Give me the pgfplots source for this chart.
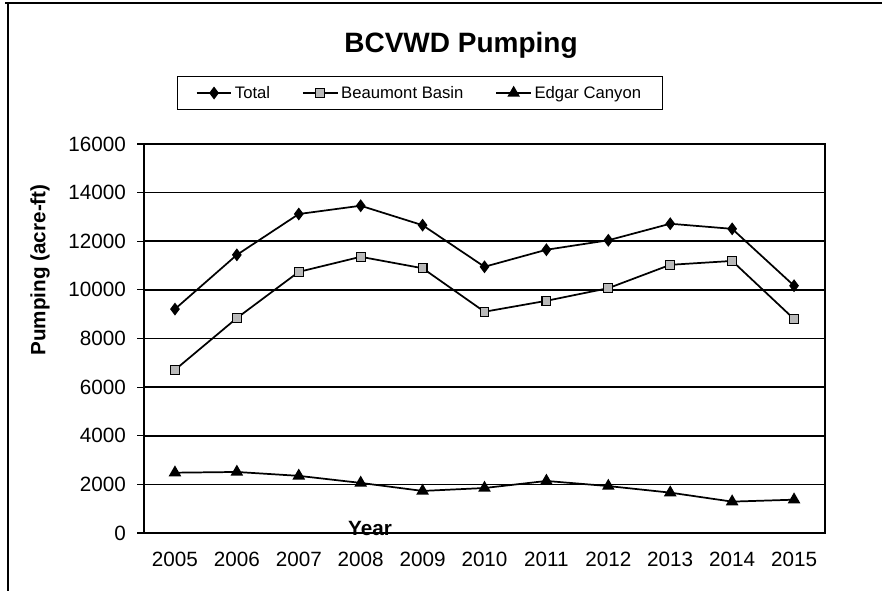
\documentclass[border=0pt]{standalone}
\usepackage{fontspec}
\setmainfont{Liberation Sans}
\usepackage{pgfplots}
\pgfplotsset{compat=1.18}
\begin{document}
\begin{tikzpicture}
\path[use as bounding box] (0pt,0pt) rectangle (661.5pt,443.25pt);
\draw[line width=1.1pt] (3.75pt,441pt) -- (661.5pt,441pt);
\draw[line width=0.8pt] (6pt,441pt) -- (6pt,0pt);
\begin{axis}[
  at={(108pt,43.5pt)}, anchor=south west,
  scale only axis, width=510.75pt, height=291.75pt,
  xmin=-0.5, xmax=10.5, ymin=0, ymax=16000,
  xtick={0,...,10},
  xticklabels={2005,2006,2007,2008,2009,2010,2011,2012,2013,2014,2015},
  major x tick style={draw=none},
  extra x ticks={-0.5,0.5,...,10.5},
  extra x tick labels={},
  extra x tick style={major tick length=6pt, tick align=outside, tick style={black, line width=0.8pt}, grid=none},
  ytick={0,2000,...,16000},
  ymajorgrids, grid style={black, line width=1.3pt},
  tick align=outside, major tick length=5pt,
  tick style={black, line width=0.8pt},
  xtick pos=bottom, ytick pos=left,
  scaled y ticks=false,
  /pgf/number format/assume math mode=true,
  /pgf/number format/1000 sep={},
  tick label style={font=\fontsize{15.5}{18}\selectfont},
  xticklabel style={yshift=-5.5pt},
  yticklabel style={xshift=-5pt},
  axis line style={black, line width=1pt},
  legend columns=3,
  legend style={at={(0.405,1.131)}, anchor=center, draw=black, line width=0.8pt,
    font=\fontsize{12.5}{15}\selectfont, inner xsep=14pt, inner ysep=5pt,
    /tikz/every even column/.append style={column sep=22pt}},
  legend image code/.code={\draw[mark repeat=2,mark phase=2,#1] plot coordinates {(0pt,0pt)(13pt,0pt)(26pt,0pt)};},
  clip=false,
]
\addplot[black, line width=1.3pt, mark=diamond*, mark size=3.8pt, mark options={solid, fill=black}]
 coordinates {(0,9210)(1,11440)(2,13120)(3,13460)(4,12660)(5,10950)(6,11650)(7,12040)(8,12720)(9,12510)(10,10170)};
\addlegendentry{Total}
\addplot[black, line width=1.3pt, mark=square*, mark size=3.3pt, mark options={solid, fill=gray!55, line width=0.8pt}]
 coordinates {(0,6710)(1,8840)(2,10740)(3,11360)(4,10890)(5,9100)(6,9550)(7,10070)(8,11030)(9,11190)(10,8800)};
\addlegendentry{Beaumont Basin}
\addplot[black, line width=1.3pt, mark=triangle*, mark size=4.2pt, mark options={solid, fill=black}]
 coordinates {(0,2480)(1,2510)(2,2350)(3,2060)(4,1730)(5,1850)(6,2140)(7,1930)(8,1660)(9,1290)(10,1370)};
\addlegendentry{Edgar Canyon}
\end{axis}
\node[font=\fontsize{21}{25}\selectfont\bfseries] at (345.75pt,409.5pt) {BCVWD Pumping};
\node[font=\fontsize{15.5}{18}\selectfont\bfseries, rotate=90] at (30pt,240.75pt) {Pumping (acre-ft)};
\node[font=\fontsize{15.5}{18}\selectfont\bfseries] at (277.5pt,47.25pt) {Year};
\end{tikzpicture}
\end{document}
